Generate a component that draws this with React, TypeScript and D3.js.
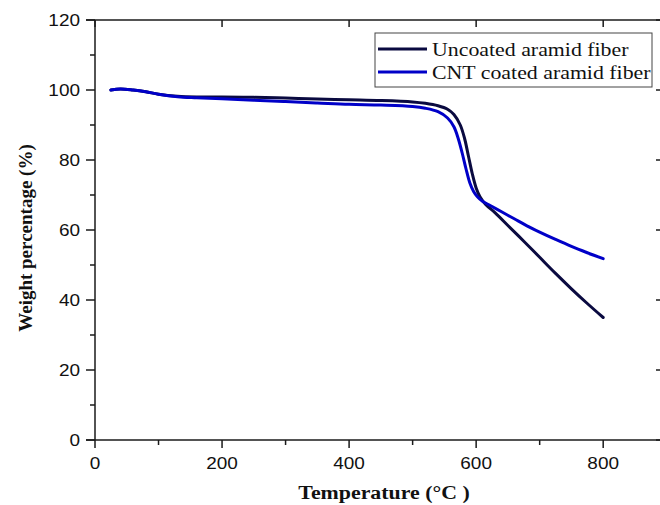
import React from "react";
import * as d3 from "d3";

const uncoatedT = [25, 40, 60, 80, 100, 130, 160, 200, 250, 300, 350, 400, 450, 500, 520, 540, 555, 565, 575, 582, 588, 594, 600, 606, 615, 630, 650, 675, 700, 725, 750, 775, 800];
const uncoatedW = [100, 100.3, 100, 99.5, 98.8, 98.2, 98, 98, 97.9, 97.7, 97.4, 97.2, 97, 96.6, 96.2, 95.5, 94.5, 93, 90, 86, 81, 76, 72, 69.5, 67.3, 64.9, 61.3, 56.8, 52.2, 47.6, 43.2, 39.0, 35];

const cntT = [25, 40, 60, 80, 100, 130, 160, 200, 250, 300, 350, 400, 450, 500, 520, 540, 555, 565, 572, 578, 584, 590, 596, 602, 610, 620, 640, 660, 680, 700, 725, 750, 775, 800];
const cntW = [100, 100.3, 100, 99.5, 98.8, 98.1, 97.8, 97.5, 97.1, 96.7, 96.3, 95.9, 95.7, 95.3, 94.8, 93.8, 92, 89.5, 86, 82, 77.5, 73.5, 71, 69.5, 68.2, 67.2, 65.2, 63.2, 61.2, 59.4, 57.3, 55.3, 53.5, 51.8];

const xMajorTicks = [0, 200, 400, 600, 800];
const xMinorTicks = [100, 300, 500, 700];
const yMajorTicks = [0, 20, 40, 60, 80, 100, 120];
const yMinorTicks = [10, 30, 50, 70, 90, 110];

const seriesNames = ["Uncoated aramid fiber", "CNT coated aramid fiber"];
const seriesColors = ["#0a0a40", "#0000c8"];

const W = 660;
const H = 505;
const left = 95;
const right = 661;
const top = 20;
const bottom = 440;
const SX = 1.15;

export default function App() {
  const x = d3.scaleLinear().domain([0, 891]).range([left, right]);
  const y = d3.scaleLinear().domain([0, 120]).range([bottom, top]);
  const line = d3
    .line<[number, number]>()
    .x((d) => x(d[0]))
    .y((d) => y(d[1]))
    .curve(d3.curveCatmullRom.alpha(0.5));

  const s1 = uncoatedT.map((t, i) => [t, uncoatedW[i]] as [number, number]);
  const s2 = cntT.map((t, i) => [t, cntW[i]] as [number, number]);

  const axisColor = "#1a1a1a";
  const sans = "'Liberation Sans', Arial, sans-serif";
  const serif = "'Liberation Serif', 'Times New Roman', serif";

  return (
    <div style={{ position: "absolute", left: 0, top: 0 }}>
      <svg width={W} height={H} style={{ display: "block", background: "#fff" }}>
        <rect x={0} y={0} width={W} height={H} fill="#fff" />
        {/* series */}
        <path d={line(s1) || ""} fill="none" stroke={seriesColors[0]} strokeWidth={3} strokeLinejoin="round" strokeLinecap="round" />
        <path d={line(s2) || ""} fill="none" stroke={seriesColors[1]} strokeWidth={3} strokeLinejoin="round" strokeLinecap="round" />

        {/* axes frame */}
        <line x1={left} x2={left} y1={top} y2={bottom} stroke={axisColor} strokeWidth={1.5} />
        <line x1={left - 9} x2={right} y1={bottom} y2={bottom} stroke={axisColor} strokeWidth={1.5} />
        <line x1={left - 9} x2={right} y1={top} y2={top} stroke={axisColor} strokeWidth={1.5} />
        <line x1={right} x2={right} y1={top} y2={bottom} stroke={axisColor} strokeWidth={1.5} />

        {/* left ticks */}
        {yMajorTicks.map((v) => (
          <line key={"ym" + v} x1={left - 9} x2={left} y1={y(v)} y2={y(v)} stroke={axisColor} strokeWidth={1.5} />
        ))}
        {yMinorTicks.map((v) => (
          <line key={"yn" + v} x1={left - 5} x2={left} y1={y(v)} y2={y(v)} stroke={axisColor} strokeWidth={1.5} />
        ))}
        {/* right ticks */}
        {yMajorTicks.map((v) => (
          <line key={"yr" + v} x1={right - 5} x2={right} y1={y(v)} y2={y(v)} stroke={axisColor} strokeWidth={1.5} />
        ))}
        {/* bottom ticks */}
        {xMajorTicks.map((v) => (
          <line key={"xm" + v} x1={x(v)} x2={x(v)} y1={bottom} y2={bottom + 8} stroke={axisColor} strokeWidth={1.5} />
        ))}
        {xMinorTicks.map((v) => (
          <line key={"xn" + v} x1={x(v)} x2={x(v)} y1={bottom} y2={bottom + 5} stroke={axisColor} strokeWidth={1.5} />
        ))}
        {/* top ticks */}
        {xMajorTicks.map((v) => (
          <line key={"xt" + v} x1={x(v)} x2={x(v)} y1={top} y2={top + 7} stroke={axisColor} strokeWidth={1.5} />
        ))}

        {/* y tick labels */}
        {yMajorTicks.map((v) => (
          <text
            key={"yl" + v}
            transform={`translate(${left - 15},${y(v) + 6}) scale(${SX},1)`}
            textAnchor="end"
            fontFamily={sans}
            fontSize={16.5}
            fill="#111"
          >
            {v}
          </text>
        ))}
        {/* x tick labels */}
        {xMajorTicks.map((v) => (
          <text
            key={"xl" + v}
            transform={`translate(${x(v)},${bottom + 29}) scale(${SX},1)`}
            textAnchor="middle"
            fontFamily={sans}
            fontSize={16.5}
            fill="#111"
          >
            {v}
          </text>
        ))}

        {/* axis titles */}
        <text
          transform={`translate(384,499) scale(${SX},1)`}
          textAnchor="middle"
          fontFamily={serif}
          fontWeight="bold"
          fontSize={19}
          fill="#111"
        >
          Temperature (°C )
        </text>
        <text
          transform={`translate(32,238) rotate(-90)`}
          textAnchor="middle"
          fontFamily={serif}
          fontWeight="bold"
          fontSize={19}
          fill="#111"
        >
          Weight percentage (%)
        </text>

        {/* legend */}
        <rect x={375} y={33} width={277} height={54} fill="#fff" stroke="#444" strokeWidth={1} />
        {seriesNames.map((name, i) => {
          const ly = 49 + i * 23;
          return (
            <g key={name}>
              <line x1={378} x2={427} y1={ly} y2={ly} stroke={seriesColors[i]} strokeWidth={3} />
              <text
                transform={`translate(432,${ly + 7}) scale(${SX},1)`}
                fontFamily={serif}
                fontSize={19}
                fill="#111"
              >
                {name}
              </text>
            </g>
          );
        })}
      </svg>
    </div>
  );
}
